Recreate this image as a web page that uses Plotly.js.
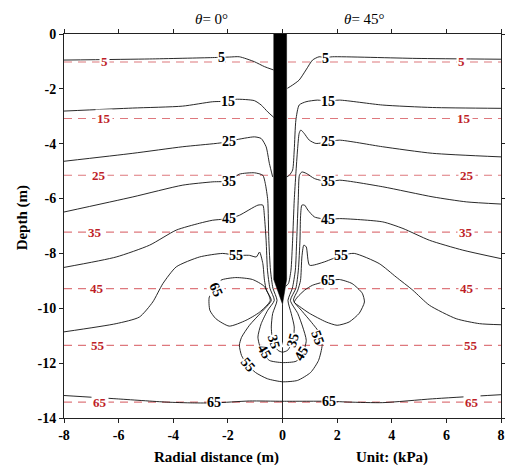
<!DOCTYPE html>
<html>
<head>
<meta charset="utf-8">
<script src="https://cdn.plot.ly/plotly-3.0.1.min.js"></script>
<style>html,body{margin:0;padding:0;background:#fff;}#chart{width:505px;height:465px;}</style>
</head>
<body>
<div id="chart"></div>
<script>
// ---------- data ----------
const xTickVals = [-8, -6, -4, -2, 0, 2, 4, 6, 8];
const xTickText = ['-8', '-6', '-4', '-2', '0', '2', '4', '6', '8'];
const yTickVals = [0, -2, -4, -6, -8, -10, -12, -14];
const yTickText = ['0', '-2', '-4', '-6', '-8', '-10', '-12', '-14'];

// hydrostatic (red dashed) reference lines
const redDepths = [-1.02, -3.08, -5.15, -7.22, -9.28, -11.35, -13.42];
const redLabels = ['5', '15', '25', '35', '45', '55', '65'];
const redLabelXL = [-6.52, -6.52, -6.71, -6.85, -6.78, -6.74, -6.69];
const redLabelXR = [6.57, 6.66, 6.75, 6.72, 6.75, 6.91, 6.95];

// theta = 0 deg side contours
const c5Lx = [-8, -4.87, -2.56, -1.94, -1.58, -1.03, -0.66, -0.33];
const c5Ly = [-0.95, -0.91, -0.86, -0.84, -0.83, -1.01, -1.19, -1.31];
const c15Lx = [-8, -5.49, -3.66, -2.56, -2.01, -1.70, -1.03, -0.78, -0.54, -0.32];
const c15Ly = [-2.81, -2.70, -2.63, -2.47, -2.45, -2.38, -2.43, -2.59, -2.84, -3.04];
const c25Lx = [-8, -5.48, -3.65, -2.43, -1.97, -1.76, -1.03, -0.78, -0.60, -0.48, -0.36];
const c25Ly = [-4.64, -4.35, -4.11, -3.99, -3.93, -3.87, -3.75, -3.81, -4.11, -4.72, -5.21];

// theta = 45 deg side contours
const c5Rx = [0.18, 0.37, 0.61, 0.86, 1.10, 1.34, 1.56, 1.83, 4.89, 8];
const c5Ry = [-1.98, -1.86, -1.68, -1.31, -0.95, -0.83, -0.86, -0.83, -0.89, -0.92];
const c15Rx = [0.15, 0.25, 0.37, 0.43, 0.49, 0.61, 0.86, 1.28, 1.67, 2.08, 3.66, 5.49, 8];
const c15Ry = [-5.21, -5.15, -4.96, -4.23, -3.14, -2.59, -2.47, -2.41, -2.45, -2.41, -2.59, -2.68, -2.71];
const c25Rx = [0.12, 0.22, 0.31, 0.37, 0.43, 0.49, 0.55, 0.61, 0.67, 0.79, 0.98, 1.22, 1.68, 2.08, 3.66, 5.49, 8];
const c25Ry = [-9.2, -9.09, -8.61, -7.52, -6.06, -5.08, -4.23, -3.62, -3.5, -3.62, -3.87, -3.99, -3.93, -3.87, -4.11, -4.35, -4.48];

// contours wrapping under the pile tip (left far -> pile -> bulb -> pile -> right far)
const c35x = [-8, -5.48, -3.65, -2.55, -1.97, -1.58, -1.03, -0.72, -0.63, -0.54, -0.50, -0.44, -0.35,
  -0.20, -0.36, -0.41, -0.36, -0.17, 0, 0.19, 0.38, 0.43, 0.32, 0.20,
  0.36, 0.47, 0.52, 0.58, 0.62, 0.71, 0.87, 1.17, 1.68, 2.09, 3.67, 5.51, 6.73, 8];
const c35y = [-6.49, -5.94, -5.51, -5.39, -5.36, -5.11, -5.06, -5.15, -5.45, -6.06, -7.52, -8.61, -9.27,
  -9.71, -10.19, -10.68, -11.17, -11.53, -11.6, -11.53, -11.17, -10.68, -10.19, -9.71,
  -9.27, -8.61, -7.52, -5.95, -5.15, -5.03, -5.08, -5.27, -5.39, -5.33, -5.57, -5.94, -6.12, -6.20];
const c45x = [-8, -6.09, -4.87, -3.89, -3.04, -2.56, -1.97, -1.58, -0.90, -0.72, -0.66, -0.60, -0.55, -0.46,
  -0.30, -0.54, -0.78, -0.90, -0.78, -0.48, 0, 0.50, 0.74, 0.87, 0.74, 0.56, 0.29,
  0.49, 0.58, 0.64, 0.66, 0.71, 0.81, 0.93, 1.17, 1.68, 2.09, 3.67, 4.41, 5.38, 6.60, 8];
const c45y = [-8.51, -8.13, -7.70, -7.15, -6.90, -6.79, -6.73, -6.61, -6.24, -6.24, -6.67, -7.52, -8.61, -9.27,
  -9.71, -10.07, -10.56, -11.05, -11.53, -11.90, -11.98, -11.93, -11.65, -11.17, -10.68, -10.19, -9.71,
  -9.27, -8.61, -7.52, -6.67, -6.24, -6.24, -6.42, -6.67, -6.76, -6.73, -6.85, -7.09, -7.52, -7.88, -8.19];
const c55x = [-8, -6.09, -5.24, -4.75, -4.38, -3.89, -3.04, -2.19, -1.70, -1.21, -0.96, -0.84, -0.72, -0.66, -0.59,
  -0.41, -0.78, -1.21, -1.50, -1.58, -1.50, -1.32, -0.99, -0.55, 0, 0.55, 1.03, 1.32, 1.45, 1.36, 1.06, 0.72, 0.40,
  0.56, 0.66, 0.71, 0.78, 0.87, 0.99, 1.53, 1.84, 2.15, 2.63, 3.54, 4.16, 4.77, 5.38, 6.36, 7.21, 8];
const c55y = [-10.86, -10.56, -10.32, -9.77, -9.10, -8.49, -8.13, -8.0, -8.07, -8.07, -8.13, -7.95, -8.37, -8.98, -9.34,
  -9.71, -10.15, -10.62, -11.06, -11.35, -11.72, -12.01, -12.34, -12.57, -12.68, -12.63, -12.34, -11.90, -11.35, -10.91, -10.51, -10.11, -9.71,
  -9.34, -8.98, -8.13, -7.70, -7.76, -8.43, -8.31, -8.19, -8.07, -8.0, -8.37, -8.86, -9.34, -9.89, -10.38, -10.56, -10.60];

// 65 kPa lobes beside the pile tip and the deep 65 contour
const c65Lx = [-0.45, -0.67, -1.1, -1.71, -2.26, -2.44, -2.68, -2.66, -2.44, -1.95, -1.34, -0.85, -0.45];
const c65Ly = [-9.72, -9.2, -8.95, -8.88, -8.98, -9.32, -9.59, -10.07, -10.38, -10.65, -10.44, -10.15, -9.72];
const c65Rx = [0.43, 0.55, 0.81, 1.10, 1.68, 2.08, 2.55, 2.92, 3.0, 2.81, 2.44, 2.0, 1.60, 0.98, 0.62, 0.43];
const c65Ry = [-9.78, -9.59, -9.34, -9.16, -9.0, -8.95, -9.10, -9.45, -9.77, -10.18, -10.5, -10.62, -10.5, -10.18, -9.93, -9.78];
const c65Bx = [-8, -6.09, -4.26, -3.29, -2.49, -1.21, 0, 1.71, 2.44, 3.67, 5.5, 8];
const c65By = [-13.18, -13.30, -13.42, -13.45, -13.45, -13.38, -13.39, -13.39, -13.42, -13.44, -13.30, -13.15];

// pile outline and centre line below it
const pileX = [-0.32, 0.15, 0.15, 0, -0.32, -0.32];
const pileY = [0, 0, -8.95, -9.85, -8.95, 0];
const axisLineX = [0, 0];
const axisLineY = [-9.85, -14];

// contour labels
const labText = ['5', '15', '25', '35', '45', '55', '65', '65',
                 '5', '15', '25', '35', '45', '55', '65', '65',
                 '35', '35', '45', '45', '55', '55'];
const labX = [-2.25, -2.01, -1.97, -1.97, -1.97, -1.70, -2.44, -2.49,
              1.56, 1.67, 1.68, 1.68, 1.68, 2.15, 1.68, 1.71,
              -0.30, 0.38, -0.67, 0.68, -1.27, 1.29];
const labY = [-0.85, -2.47, -3.93, -5.36, -6.73, -8.07, -9.32, -13.45,
              -0.89, -2.47, -3.93, -5.39, -6.76, -8.07, -9.0, -13.39,
              -11.23, -11.17, -11.59, -11.64, -12.05, -11.06];
const labAngle = [0, 0, 0, 0, 0, 0, 65, 0,
                  0, 0, 0, 0, 0, 0, 0, 0,
                  75, -75, 60, -60, 50, 70];

// ---------- figure ----------
const SERIF = 'Liberation Serif, Times New Roman, serif';
const traces = [];
redDepths.forEach(d => {
  traces.push({x: [-8, 8], y: [d, d], mode: 'lines', hoverinfo: 'skip',
    line: {color: 'rgb(222,120,125)', width: 1.2, dash: '8px,6px'}});
});
const contourSets = [[c5Lx, c5Ly], [c15Lx, c15Ly], [c25Lx, c25Ly],
  [c5Rx, c5Ry], [c15Rx, c15Ry], [c25Rx, c25Ry],
  [c35x, c35y], [c45x, c45y], [c55x, c55y],
  [c65Lx, c65Ly], [c65Rx, c65Ry], [c65Bx, c65By]];
contourSets.forEach(s => {
  traces.push({x: s[0], y: s[1], mode: 'lines', hoverinfo: 'skip',
    line: {color: '#111', width: 0.9, shape: 'spline', smoothing: 0.6}});
});
traces.push({x: axisLineX, y: axisLineY, mode: 'lines', line: {color: '#111', width: 0.9}, hoverinfo: 'skip'});
traces.push({x: pileX, y: pileY, mode: 'lines', fill: 'toself', fillcolor: '#000',
  line: {color: '#000', width: 0.5}, hoverinfo: 'skip'});

const annotations = [];
redDepths.forEach((d, i) => {
  [redLabelXL[i], redLabelXR[i]].forEach(xx => {
    annotations.push({x: xx, y: d, xref: 'x', yref: 'y', text: redLabels[i], showarrow: false,
      font: {family: SERIF, size: 13, color: 'rgb(190,30,40)', weight: 'bold'},
      bgcolor: '#fff', borderpad: 1});
  });
});
labText.forEach((t, i) => {
  annotations.push({x: labX[i], y: labY[i], xref: 'x', yref: 'y', text: t, showarrow: false,
    textangle: labAngle[i],
    font: {family: SERIF, size: 14, color: '#000', weight: 'bold'},
    bgcolor: '#fff', borderpad: 0});
});
annotations.push({x: -2.6, y: 1.04, xref: 'x', yref: 'paper', xanchor: 'center', yanchor: 'middle',
  text: '<i>θ</i>= 0°', showarrow: false, font: {family: SERIF, size: 15, color: '#000'}});
annotations.push({x: 3.0, y: 1.04, xref: 'x', yref: 'paper', xanchor: 'center', yanchor: 'middle',
  text: '<i>θ</i>= 45°', showarrow: false, font: {family: SERIF, size: 15, color: '#000'}});
annotations.push({x: -2.42, y: -0.104, xref: 'x', yref: 'paper', xanchor: 'center', yanchor: 'middle',
  text: 'Radial distance (m)', showarrow: false, font: {family: SERIF, size: 15, color: '#000', weight: 'bold'}});
annotations.push({x: 4.0, y: -0.104, xref: 'x', yref: 'paper', xanchor: 'center', yanchor: 'middle',
  text: 'Unit: (kPa)', showarrow: false, font: {family: SERIF, size: 15, color: '#000', weight: 'bold'}});
annotations.push({x: -0.096, y: 0.52, xref: 'paper', yref: 'paper', xanchor: 'center', yanchor: 'middle',
  text: 'Depth (m)', showarrow: false, textangle: -90,
  font: {family: SERIF, size: 15, color: '#000', weight: 'bold'}});

const axisCommon = {showgrid: false, zeroline: false, showline: true, linecolor: '#222', linewidth: 1,
  mirror: 'ticks', ticks: 'outside', ticklen: 4, tickcolor: '#222', tickwidth: 1,
  tickfont: {family: SERIF, size: 14, color: '#000', weight: 'bold'}, tickmode: 'array'};

const layout = {
  width: 505, height: 465,
  margin: {l: 64, r: 4, t: 34, b: 47},
  paper_bgcolor: '#fff', plot_bgcolor: '#fff',
  showlegend: false,
  font: {family: SERIF},
  xaxis: Object.assign({}, axisCommon, {range: [-8, 8], tickvals: xTickVals, ticktext: xTickText}),
  yaxis: Object.assign({}, axisCommon, {range: [-14, 0], tickvals: yTickVals, ticktext: yTickText}),
  annotations: annotations
};
Plotly.newPlot('chart', traces, layout, {staticPlot: true, displayModeBar: false});
</script>
</body>
</html>
